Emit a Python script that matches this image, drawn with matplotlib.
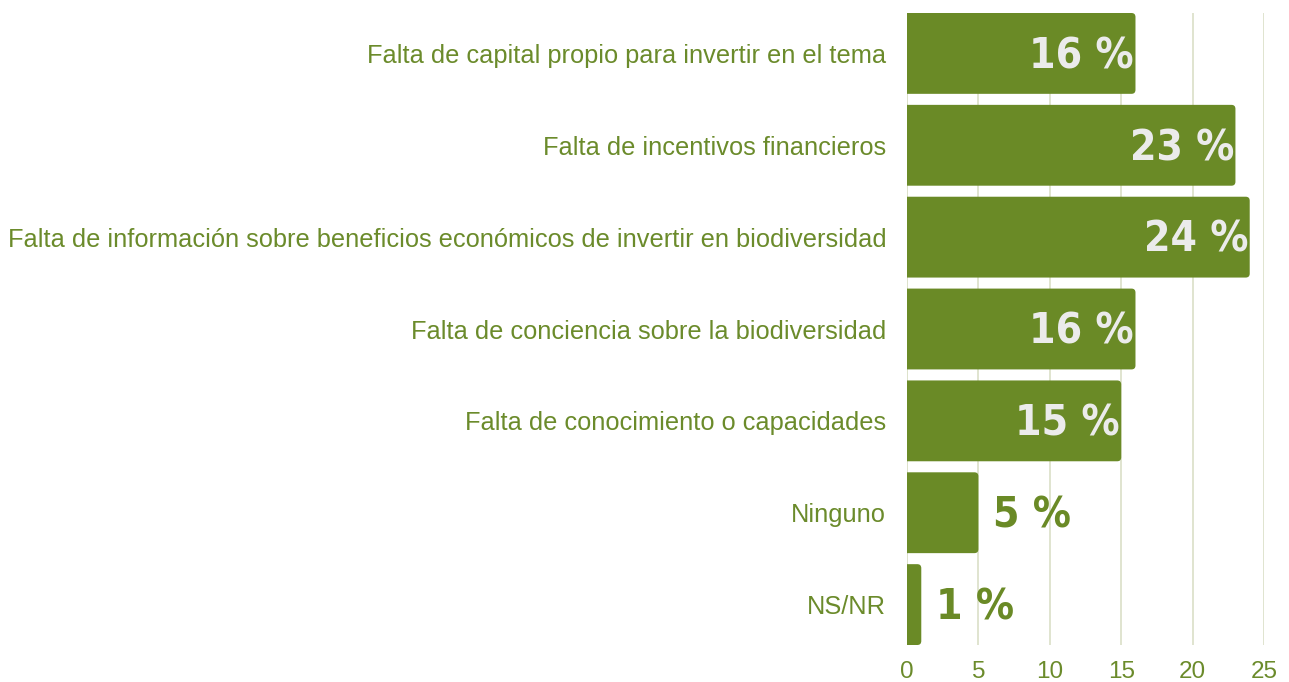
"""
Barreras para invertir en biodiversidad - barras horizontales
"""

import matplotlib
matplotlib.use('Agg')
import matplotlib.pyplot as plt
from matplotlib.patches import FancyBboxPatch

# Datos
categorias = [
    'Falta de capital propio para invertir en el tema',
    'Falta de incentivos financieros',
    'Falta de información sobre beneficios económicos de invertir en biodiversidad',
    'Falta de conciencia sobre la biodiversidad',
    'Falta de conocimiento o capacidades',
    'Ninguno',
    'NS/NR',
]
porcentajes = [16, 23, 24, 16, 15, 5, 1]
ticks_x = [0, 5, 10, 15, 20, 25]

verde = '#6a8a26'
verde_texto = '#6b8b2b'
gris_claro = '#ebebeb'
rejilla = '#dde2cb'

plt.rcParams['font.family'] = ['Liberation Sans', 'DejaVu Sans']

fig = plt.figure(figsize=(12.89, 6.82), dpi=100)
ax = fig.add_axes([907/1289, 37/682, 357/1289, 632/682])

pos = list(range(len(categorias)))
alto = 0.88
bars = ax.barh(pos, porcentajes, height=alto, color=verde, zorder=2)

# esquinas redondeadas a la derecha (la izquierda queda recortada por el eje)
r = 0.28
asp = (25/357) / (6.88/632)
for b in bars:
    x, y, w, h = b.get_x(), b.get_y(), b.get_width(), b.get_height()
    b.set_visible(False)
    p = FancyBboxPatch((x - r, y), w + r, h,
                       boxstyle=f'round,pad=0,rounding_size={r}',
                       mutation_aspect=1/asp, fc=verde, ec='none', zorder=2)
    ax.add_patch(p)

ax.set_xlim(0, 25)
ax.set_ylim(len(categorias) - 1 + alto/2, -alto/2)
ax.set_xticks(ticks_x)
ax.set_yticks(pos)
ax.set_yticklabels(categorias)

ax.grid(axis='x', color=rejilla, linewidth=1.3, zorder=0)
ax.grid(axis='y', visible=False)
for s in ax.spines.values():
    s.set_visible(False)
ax.axvline(0, color=rejilla, linewidth=1.3, zorder=1)
ax.tick_params(axis='both', length=0, labelcolor=verde_texto)
ax.tick_params(axis='y', pad=15, labelsize=18.3)
ax.tick_params(axis='x', pad=11.5, labelsize=17.5)

# etiquetas de valor (dentro de la barra si es larga, fuera si es corta)
fuente_valor = dict(fontsize=30.5, fontweight='bold', fontstretch='condensed',
                    family=['DejaVu Sans'], zorder=3)
for yy, v in zip(pos, porcentajes):
    txt = f'{v} %'
    if v >= 15:
        ax.text(v - 0.1, yy + 0.03, txt, ha='right', va='center',
                color=gris_claro, **fuente_valor)
    else:
        ax.text(v + 1.0, yy + 0.03, txt, ha='left', va='center',
                color=verde, **fuente_valor)

plt.savefig('out.png', dpi=100)
